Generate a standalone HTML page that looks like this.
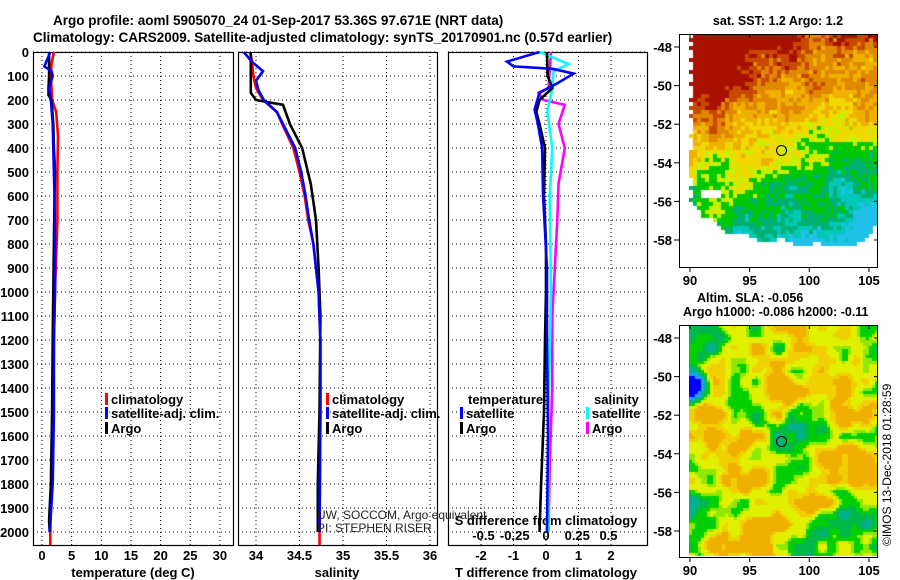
<!DOCTYPE html>
<html><head><meta charset="utf-8">
<style>
html,body{margin:0;padding:0;background:#fff;}
#wrap{position:relative;width:900px;height:580px;overflow:hidden;font-family:"Liberation Sans",sans-serif;}
svg text{font-family:"Liberation Sans",sans-serif;}
canvas{position:absolute;}
</style></head>
<body>
<div id="wrap">
<canvas id="map1" width="188" height="233" style="left:689px;top:34px"></canvas>
<canvas id="map2" width="188" height="231" style="left:689px;top:325px"></canvas>
<svg id="fig" width="900" height="580" style="position:absolute;left:0;top:0"></svg>
</div>
<script>
// ---------- data ----------
const tempArgoDepth=[0,50,100,150,180,200,300,400,500,600,800,1000,1200,1500,1800,1950,2000];
const tempArgoVal=[1.2,1.2,1.2,1.1,1.1,1.6,1.9,2.0,2.2,2.1,2.0,1.9,1.8,1.7,1.5,1.2,1.3];
const tempClimDepth=[0,50,100,200,250,350,500,700,1000,1200,1500,1750,1800,2000,2055];
const tempClimVal=[2.0,1.6,1.5,1.7,2.4,2.7,2.6,2.6,2.2,2.0,1.9,1.8,1.6,1.4,1.4];
const tempSatDepth=[0,30,60,80,100,150,200,300,400,600,800,1000,1200,1500,1800,2000];
const tempSatVal=[1.4,0.9,0.4,1.6,1.8,1.2,1.5,1.8,1.9,2.1,2.2,2.2,2.0,2.0,1.8,1.3];

const salArgoDepth=[0,170,200,210,220,300,400,550,700,900,1100,1500,1800,2000];
const salArgoVal=[33.94,33.94,34.0,34.15,34.31,34.39,34.53,34.63,34.69,34.72,34.74,34.73,34.71,34.71];
const salClimDepth=[0,30,100,150,200,250,300,400,500,600,700,800,1000,1200,1500,2055];
const salClimVal=[33.93,33.95,33.97,34.0,34.08,34.24,34.30,34.43,34.50,34.56,34.60,34.66,34.72,34.74,34.74,34.73];
const salSatDepth=[0,40,80,120,160,200,250,300,400,500,600,700,800,1000,1200,1500,2000];
const salSatVal=[33.86,33.95,34.08,34.0,34.03,34.09,34.24,34.31,34.45,34.52,34.57,34.61,34.66,34.72,34.74,34.74,34.73];

const dTArgoDepth=[0,100,150,200,250,300,400,600,800,1000,1200,1500,1800,2000];
const dTArgoVal=[0.03,0.05,0.2,-0.2,-0.3,-0.2,-0.03,-0.06,0.0,0.0,-0.03,-0.06,-0.15,-0.2];
const dTSatDepth=[0,40,60,70,90,130,170,240,300,400,600,900,1200,1600,2000];
const dTSatVal=[-0.2,-1.2,-1.0,0.2,0.85,0.35,-0.2,-0.35,-0.25,-0.12,-0.09,0.03,0.03,0.06,0.03];
const dSSatDepth=[0,50,80,150,250,400,600,1000,1500,2000];
const dSSatVal=[-0.05,0.18,0.06,0.05,0.01,0.05,0.03,0.04,0.02,0.02];
const dSArgoDepth=[0,150,170,200,220,300,400,550,700,900,1100,1400,1700,2000];
const dSArgoVal=[0.04,0.02,-0.06,-0.02,0.15,0.10,0.15,0.10,0.09,0.07,0.05,0.05,0.03,0.02];

const depthTicks=[0,100,200,300,400,500,600,700,800,900,1000,1100,1200,1300,1400,1500,1600,1700,1800,1900,2000];
const tempTicks=[0,5,10,15,20,25,30];
const salTicks=[34,34.5,35,35.5,36];
const salTickLabels=["34","34.5","35","35.5","36"];
const dTTicks=[-2,-1,0,1,2];
const dSTicks=[-0.5,-0.25,0,0.25,0.5];
const dSTickLabels=["-0.5","-0.25","0","0.25","0.5"];
const latTicks=[-48,-50,-52,-54,-56,-58];
const lonTicks=[90,95,100,105];

// ---------- axes ----------
const yD=d=>52+d*0.24;
const xT=t=>42+t*5.93;
const xS=s=>256+(s-34)*87;
const xDT=d=>546+d*32.5;
const xDS=s=>546+s*125;
const lonX=l=>690+(l-90)*11.93;
const lat1Y=l=>47+(-48-l)*19.3;
const lat2Y=l=>338+(-48-l)*19.3;

const NS="http://www.w3.org/2000/svg";
const svg=document.getElementById('fig');
function mk(tag,attrs,parent){const e=document.createElementNS(NS,tag);for(const k in attrs)e.setAttribute(k,attrs[k]);(parent||svg).appendChild(e);return e;}
function txt(x,y,s,anchor,size,weight,fill,parent){const t=mk('text',{x:x,y:y,'text-anchor':anchor||'start','font-size':size||13,'font-weight':weight||'bold',fill:fill||'#000'},parent);t.textContent=s;return t;}

const panels=[{x0:33,x1:233},{x0:238,x1:437},{x0:448,x1:647}];
const TOP=52,BOT=545;
panels.forEach((p,i)=>{
  const g=mk('g',{});
  
  
  depthTicks.forEach(d=>{mk('line',{x1:p.x0,x2:p.x1,y1:yD(d),y2:yD(d),stroke:'#000','stroke-width':1,'stroke-dasharray':'1,3'},g);});
});
function vgrid(vals,fx){vals.forEach(v=>{const l=mk('line',{x1:fx(v),x2:fx(v),y1:TOP,y2:BOT,stroke:'#000','stroke-width':1,'stroke-dasharray':'1,3'});});}
vgrid(tempTicks,xT);vgrid(salTicks,xS);vgrid(dTTicks,xDT);

panels.forEach((p,i)=>{
  const r=mk('rect',{x:p.x0+0.5,y:TOP+0.5,width:p.x1-p.x0,height:BOT-TOP,fill:'none',stroke:'#000','stroke-width':1.2});
  
  
});
depthTicks.forEach(d=>{const t=txt(29,yD(d)+5,String(d),'end',13);});
tempTicks.forEach(v=>{const t=txt(xT(v),560,String(v),'middle',13);});
salTicks.forEach((v,i)=>{const t=txt(xS(v),560,salTickLabels[i],'middle',13);});
dTTicks.forEach(v=>{const t=txt(xDT(v),560,String(v),'middle',13);});
dSTicks.forEach((v,i)=>{const t=txt(xDS(v),540,dSTickLabels[i],'middle',13);});
let t;
t=txt(133,577,'temperature (deg C)','middle',13);
t=txt(337,577,'salinity','middle',13);
t=txt(546,577,'T difference from climatology','middle',13);
t=txt(546,525,'S difference from climatology','middle',13);

function prof(depths,vals,fx,color,name){
  const pts=depths.map((d,i)=>fx(vals[i]).toFixed(1)+','+yD(d).toFixed(1)).join(' ');
  const p=mk('polyline',{points:pts,fill:'none',stroke:color,'stroke-width':2.6,'stroke-linejoin':'miter'});
  
  
}
prof(tempClimDepth,tempClimVal,xT,'#ff0000','temp-climatology-line');
prof(tempArgoDepth,tempArgoVal,xT,'#000','temp-argo-line');
prof(tempSatDepth,tempSatVal,xT,'#0000ff','temp-satellite-line');
prof(salClimDepth,salClimVal,xS,'#ff0000','sal-climatology-line');
prof(salArgoDepth,salArgoVal,xS,'#000','sal-argo-line');
prof(salSatDepth,salSatVal,xS,'#0000ff','sal-satellite-line');
prof(dSArgoDepth,dSArgoVal,xDS,'#ff00ff','sdiff-argo-line');
prof(dSSatDepth,dSSatVal,xDS,'#00ffff','sdiff-satellite-line');
prof(dTArgoDepth,dTArgoVal,xDT,'#000','tdiff-argo-line');
prof(dTSatDepth,dTSatVal,xDT,'#0000ff','tdiff-satellite-line');

function leg(x,y,color,label){
  const g=mk('g',{});
  
  
  mk('rect',{x:x,y:y-11,width:3,height:12,fill:color},g);
  txt(x+6,y,label,'start',13,'bold','#000',g);
}
leg(105,404,'#ff0000','climatology');leg(105,418,'#0000ff','satellite-adj. clim.');leg(105,433,'#000','Argo');
leg(326,404,'#ff0000','climatology');leg(326,418,'#0000ff','satellite-adj. clim.');leg(326,433,'#000','Argo');
t=txt(468,404,'temperature','start',13);
leg(460,418,'#0000ff','satellite');leg(460,433,'#000','Argo');
t=txt(594,404,'salinity','start',13);
leg(586,418,'#00ffff','satellite');leg(586,433,'#ff00ff','Argo');
t=txt(317,519,'UW, SOCCOM, Argo equivalent','start',12,'normal','#222');
t=txt(317,532,'PI: STEPHEN RISER','start',12,'normal','#222');

t=txt(53,25,'Argo profile: aoml 5905070_24 01-Sep-2017 53.36S 97.671E (NRT data)','start',13.5);
t=txt(33,42,'Climatology: CARS2009. Satellite-adjusted climatology: synTS_20170901.nc (0.57d earlier)','start',13.5);
t=txt(778,25,'sat. SST: 1.2 Argo: 1.2','middle',12.5);
t=txt(697,302,'Altim. SLA: -0.056','start',12.5);
t=txt(683,316,'Argo h1000: -0.086 h2000: -0.11','start',12.5);
t=txt(0,0,'©IMOS 13-Dec-2018 01:28:59','start',12,'normal');t.setAttribute('transform','translate(891,546) rotate(-90)');

function mapFrame(top,bot,latY,name){
  const g=mk('g',{});
  
  
  mk('rect',{x:679.5,y:top+0.5,width:198,height:bot-top,fill:'none',stroke:'#000','stroke-width':1},g);
  latTicks.forEach(l=>{const y=latY(l);mk('line',{x1:674,x2:679,y1:y,y2:y,stroke:'#000'},g);mk('line',{x1:874,x2:878,y1:y,y2:y,stroke:'#000'},g);txt(672,y+5,String(l),'end',13,'bold','#000',g);});
  lonTicks.forEach(l=>{const x=lonX(l);mk('line',{x1:x,x2:x,y1:bot,y2:bot+5,stroke:'#000'},g);mk('line',{x1:x,x2:x,y1:top,y2:top+4,stroke:'#000'},g);txt(x,bot+18,String(l),'middle',13,'bold','#000',g);});
  mk('circle',{cx:lonX(97.671),cy:latY(-53.36),r:5,fill:'none',stroke:'#000','stroke-width':1},g);
}
mapFrame(34,267,lat1Y,'sst-map-axes');
mapFrame(325,557,lat2Y,'sla-map-axes');

// ---------- map rasters (imagery texture) ----------
function h(i,j,s){let n=Math.sin(i*127.1+j*311.7+s*74.7)*43758.5453;return n-Math.floor(n);}
function sm(x,y,s){const xi=Math.floor(x),yi=Math.floor(y),fx=x-xi,fy=y-yi;const u=fx*fx*(3-2*fx),v=fy*fy*(3-2*fy);
 return (h(xi,yi,s)*(1-u)+h(xi+1,yi,s)*u)*(1-v)+(h(xi,yi+1,s)*(1-u)+h(xi+1,yi+1,s)*u)*v;}
(function(){
 const c=document.getElementById('map1').getContext('2d');const W=188,H=233,cs=4;
 for(let y=0;y<H;y+=cs)for(let x=0;x<W;x+=cs){
   const gx=x+689,gy=y+34;
   let edge=689;
   if(gy>196) edge=689+(gy-196)*0.7;
   if(gy>215) edge=705+(gy-215)*1.3;
   const bottom=240+sm(x/18,0,5)*18-8;
   if(gx<edge+h(x,y,9)*8-4||gy>bottom||(gx>872&&gy>225)) continue;
   if(gx>700&&gx<718&&gy>186&&gy<198) continue;
   const bx=(gx-720)/50,by=(gy-70)/40;
   let v=1.0-(gy-34)/200*0.75 -(gx-689)/188*0.14 + 0.22*Math.exp(-(bx*bx+by*by));
   if(gy>140) v-=(gx-689)/188*0.1;
   v+= (sm(x/25,y/25,1)-0.5)*0.3+(h(x,y,2)-0.5)*0.16;
   let col;
   if(v>0.9)col='#a81000';else if(v>0.8)col='#c84800';else if(v>0.7)col='#e08800';else if(v>0.6)col='#f0b000';
   else if(v>0.49)col='#f0d800';else if(v>0.41)col='#c8f000';else if(v>0.28)col='#00c800';else if(v>0.18)col='#00b070';
   else if(v>0.1)col='#00c8b8';else col='#20c0e8';
   c.fillStyle=col;c.fillRect(x,y,cs,cs);
 }
})();
(function(){
 const c=document.getElementById('map2').getContext('2d');const W=188,H=231,cs=3;
 for(let y=0;y<H;y+=cs)for(let x=0;x<W;x+=cs){
   let v=sm(x/22,y/22,3)*0.65+sm(x/11,y/11,4)*0.35;
   const dx=x-3,dy=y-60;const d=Math.sqrt(dx*dx+dy*dy);
   if(d<22)v-= (22-d)/22*0.9;
   let col;
   if(v<-0.2)col='#0000ff';else if(v<0)col='#20a0ff';else if(v<0.2)col='#00b090';
   else if(v<0.3)col='#00b848';else if(v<0.4)col='#00d000';else if(v<0.45)col='#90e800';
   else if(v<0.6)col='#e0f000';else if(v<0.68)col='#f0d000';else col='#f0b000';
   c.fillStyle=col;c.fillRect(x,y,cs,cs);
 }
})();
</script>
</body></html>
